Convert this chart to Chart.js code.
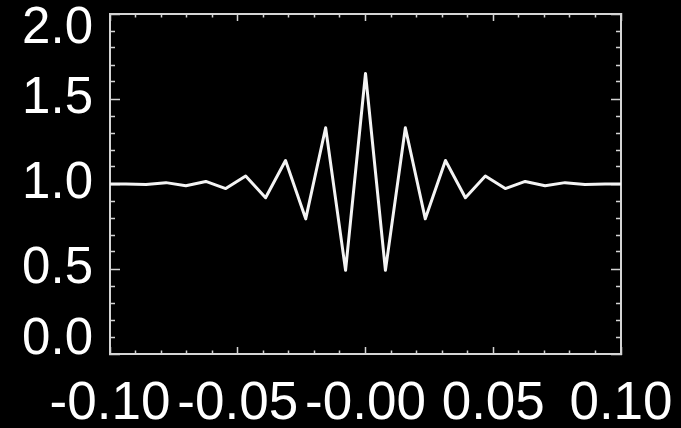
<!DOCTYPE html>
<html>
<head>
<meta charset="utf-8">
<title>Oscillating response around 1.0</title>
<script src="https://cdn.jsdelivr.net/npm/chart.js@4/dist/chart.umd.min.js"></script>
<style>
  html, body { margin: 0; padding: 0; background: #000; }
  canvas { display: block; }
</style>
</head>
<body>
<canvas id="chart" width="681" height="428"></canvas>
<script>
// Sample positions (step 1/128) and measured response at each position
const X_VALUES = [
  -0.1016, -0.0938, -0.0859, -0.0781, -0.0703, -0.0625, -0.0547,
  -0.0469, -0.0391, -0.0313, -0.0234, -0.0156, -0.0078, 0.0,
  0.0078, 0.0156, 0.0234, 0.0313, 0.0391, 0.0469, 0.0547,
  0.0625, 0.0703, 0.0781, 0.0859, 0.0938, 0.1016
];
const Y_VALUES = [
  1.000, 1.000, 0.997, 1.008, 0.990, 1.015, 0.973,
  1.047, 0.919, 1.138, 0.795, 1.331, 0.492, 1.650,
  0.492, 1.331, 0.795, 1.138, 0.919, 1.047, 0.973,
  1.015, 0.990, 1.008, 0.997, 1.000, 1.000
];

// Axis ranges and labels for the major ticks
const X_MIN = -0.10, X_MAX = 0.10;
const Y_MIN = 0.0, Y_MAX = 2.0;
const X_TICK_LABELS = ['-0.10', '-0.05', '-0.00', '0.05', '0.10'];
const Y_TICK_LABELS = ['0.0', '0.5', '1.0', '1.5', '2.0'];

const AXIS_COLOR = '#d4d4d4';
const LINE_COLOR = '#f4f4f4';
const FONT_FAMILY = '"Liberation Sans", Arial, Helvetica, sans-serif';

// Minor ticks every 0.01 on x and 0.1 on y; major every 0.05 and 0.5
const isMajorX = v => Math.abs(Math.round(v * 100)) % 5 === 0;
const isMajorY = v => Math.abs(Math.round(v * 10)) % 5 === 0;

// Inward tick marks: one dash pattern keeps minor ticks shorter than major ones.
// Bottom/right ticks are stroked from the frame inward, top/left from inside out.
function tickDash(major, fromFrame, len, minorLen) {
  if (major) return [];
  return fromFrame ? [minorLen, 200] : [0, len - minorLen, minorLen, 200];
}

function xTickLabel(value) {
  if (!isMajorX(value)) return '';
  return X_TICK_LABELS[Math.round((value - X_MIN) / 0.05)];
}

function yTickLabel(value) {
  if (!isMajorY(value)) return '';
  const idx = Math.round((value - Y_MIN) / 0.5);
  const text = Y_TICK_LABELS[idx];
  // end labels sit inside the frame: push the top one down, the bottom one up
  if (idx === Y_TICK_LABELS.length - 1) return ['', text];
  if (idx === 0) return [text, ''];
  return text;
}

function noPadding(scale) {
  scale.paddingLeft = 0;
  scale.paddingRight = 0;
  scale.paddingTop = 0;
  scale.paddingBottom = 0;
}

const border = { display: true, color: AXIS_COLOR, width: 2 };

const points = X_VALUES.map((x, i) => ({ x: x, y: Y_VALUES[i] }));

new Chart(document.getElementById('chart'), {
  type: 'line',
  data: {
    datasets: [{
      data: points,
      borderColor: LINE_COLOR,
      borderWidth: 3,
      borderJoinStyle: 'round',
      pointRadius: 0,
      tension: 0,
      fill: false,
      xAxisID: 'x',
      yAxisID: 'y'
    }]
  },
  options: {
    responsive: false,
    animation: false,
    devicePixelRatio: 1,
    layout: { padding: 0 },
    plugins: { legend: { display: false }, tooltip: { enabled: false } },
    scales: {
      x: {
        type: 'linear', position: 'bottom', min: X_MIN, max: X_MAX,
        border: border,
        grid: {
          drawOnChartArea: false, tickLength: -7, tickWidth: 1.5, tickColor: AXIS_COLOR,
          tickBorderDash: c => tickDash(isMajorX(c.tick.value), true, 8, 4.5)
        },
        ticks: {
          stepSize: 0.01, maxTicksLimit: 100, autoSkip: false, maxRotation: 0, minRotation: 0,
          padding: 26, color: '#ffffff',
          font: { family: FONT_FAMILY, size: 53 },
          callback: xTickLabel
        },
        afterFit: s => { s.height = 74; noPadding(s); }
      },
      xTop: {
        type: 'linear', position: 'top', min: X_MIN, max: X_MAX,
        border: border,
        grid: {
          drawOnChartArea: false, tickLength: -7, tickWidth: 1.5, tickColor: AXIS_COLOR,
          tickBorderDash: c => tickDash(isMajorX(c.tick.value), false, 8, 4.5)
        },
        ticks: { stepSize: 0.01, maxTicksLimit: 100, autoSkip: false, display: false },
        afterFit: s => { s.height = 14; noPadding(s); }
      },
      y: {
        type: 'linear', position: 'left', min: Y_MIN, max: Y_MAX,
        border: border,
        grid: {
          drawOnChartArea: false, tickLength: -10, tickWidth: 1.5, tickColor: AXIS_COLOR,
          tickBorderDash: c => tickDash(isMajorY(c.tick.value), false, 11, 6)
        },
        ticks: {
          stepSize: 0.1, maxTicksLimit: 100, autoSkip: false,
          padding: 27, color: '#ffffff',
          font: c => {
            const v = c.tick ? c.tick.value : 1;
            const end = Math.abs(v - Y_MIN) < 1e-9 || Math.abs(v - Y_MAX) < 1e-9;
            return { family: FONT_FAMILY, size: 51, lineHeight: end ? '29px' : 1.2 };
          },
          callback: yTickLabel
        },
        afterFit: s => { s.width = 110; noPadding(s); }
      },
      yRight: {
        type: 'linear', position: 'right', min: Y_MIN, max: Y_MAX,
        border: border,
        grid: {
          drawOnChartArea: false, tickLength: -10, tickWidth: 1.5, tickColor: AXIS_COLOR,
          tickBorderDash: c => tickDash(isMajorY(c.tick.value), true, 11, 6)
        },
        ticks: { stepSize: 0.1, maxTicksLimit: 100, autoSkip: false, display: false },
        afterFit: s => { s.width = 60; noPadding(s); }
      }
    }
  }
});
</script>
</body>
</html>
